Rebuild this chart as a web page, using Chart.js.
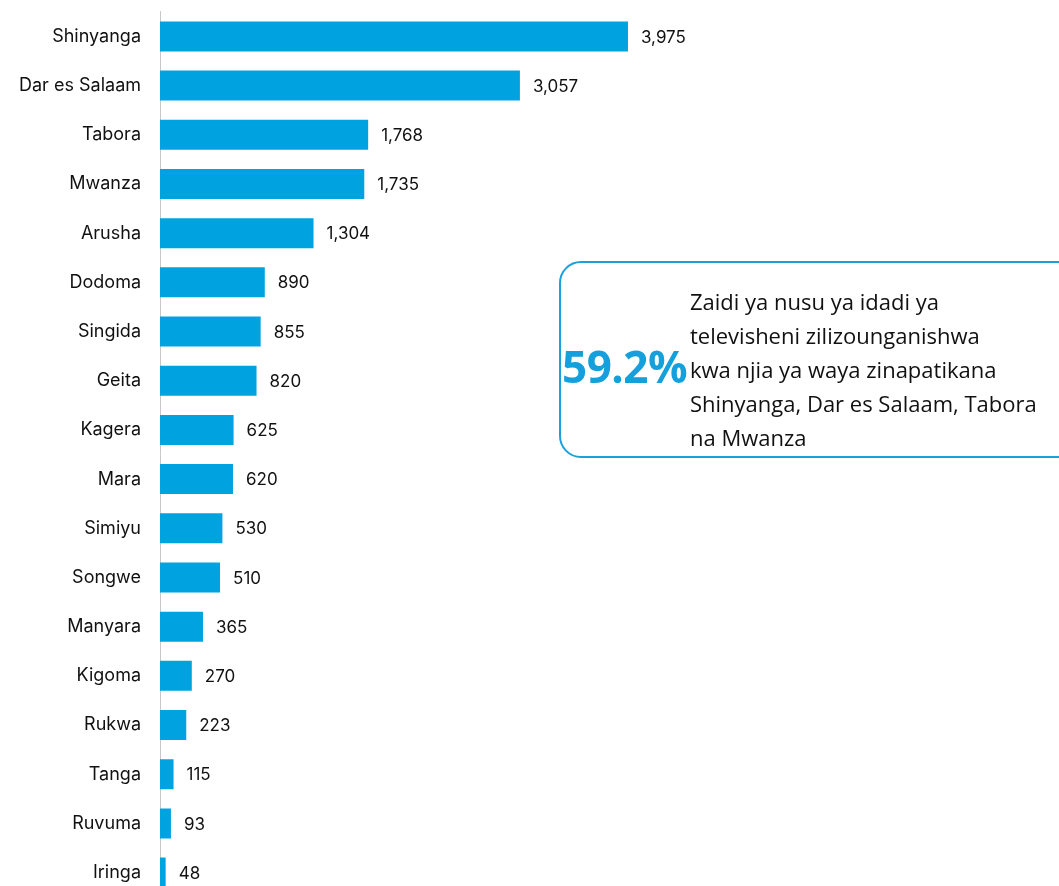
<!DOCTYPE html>
<html>
<head>
<meta charset="utf-8">
<script src="https://cdn.jsdelivr.net/npm/chart.js@4/dist/chart.umd.min.js"></script>
<style>
html,body{margin:0;padding:0;background:#fff;overflow:hidden;width:1059px;height:886px;}
#wrap{position:absolute;left:0;top:-10px;width:1059px;height:929px;}
#callout{position:absolute;left:559px;top:261px;width:520px;height:193px;border:2px solid #1aa1dc;border-radius:22px;box-sizing:content-box;}
#big{position:absolute;left:562px;top:338px;font-family:"Open Sans","Noto Sans",sans-serif;font-weight:700;font-size:44px;color:#14a0dc;letter-spacing:-0.5px;line-height:56px;}
#txt{position:absolute;left:690px;top:284px;font-family:"Open Sans","Noto Sans",sans-serif;font-size:22px;line-height:34px;color:#111;white-space:nowrap;}
</style>
</head>
<body>
<div id="wrap"><canvas id="c" width="1059" height="929"></canvas></div>
<div id="callout"></div>
<div id="big">59.2%</div>
<div id="txt">Zaidi ya nusu ya idadi ya<br>televisheni zilizounganishwa<br>kwa njia ya waya zinapatikana<br>Shinyanga, Dar es Salaam, Tabora<br>na Mwanza</div>
<script>
const regions = ["Shinyanga","Dar es Salaam","Tabora","Mwanza","Arusha","Dodoma","Singida","Geita","Kagera","Mara","Simiyu","Songwe","Manyara","Kigoma","Rukwa","Tanga","Ruvuma","Iringa"];
const values = [3975,3057,1768,1735,1304,890,855,820,625,620,530,510,365,270,223,115,93,48];

const valueLabels = {
  id:'valueLabels',
  afterDatasetsDraw(chart){
    const ctx = chart.ctx;
    const meta = chart.getDatasetMeta(0);
    ctx.save();
    ctx.font = '17px Inter, "Open Sans", sans-serif';
    ctx.fillStyle = '#111';
    ctx.textAlign = 'left';
    ctx.textBaseline = 'middle';
    meta.data.forEach((bar,i)=>{
      ctx.fillText(values[i].toLocaleString('en-US'), bar.x + 13, bar.y + 1);
    });
    ctx.restore();
  }
};

new Chart(document.getElementById('c'),{
  type:'bar',
  data:{labels:regions,datasets:[{data:values,backgroundColor:'#00a3df',borderWidth:0,barPercentage:1,categoryPercentage:0.61}]},
  options:{
    indexAxis:'y',
    responsive:false,
    animation:false,
    layout:{padding:{top:0,bottom:0,right:16,left:0}},
    plugins:{legend:{display:false},tooltip:{enabled:false}},
    scales:{
      x:{display:false,min:0,max:7500},
      y:{
        afterFit(s){s.width=160;},
        grid:{display:false},
        border:{display:true,color:'#c8c8c8',width:1},
        ticks:{padding:11,color:'#111',font:{family:'Inter, "Open Sans", sans-serif',size:18}}
      }
    }
  },
  plugins:[valueLabels]
});
</script>
</body>
</html>
